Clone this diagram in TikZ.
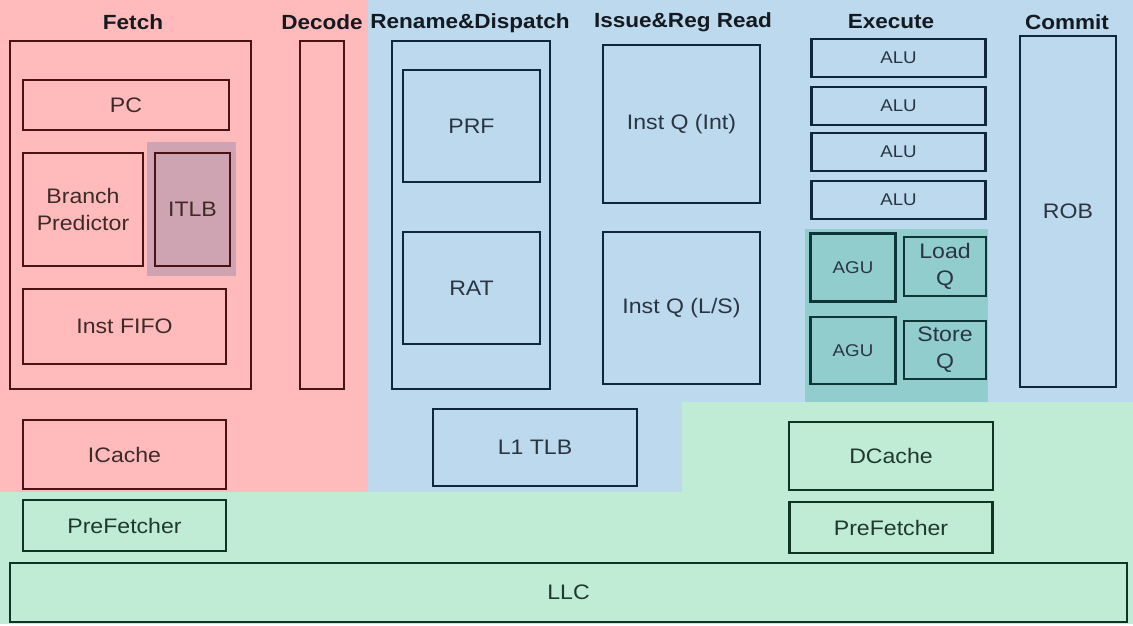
\documentclass[tikz,border=0pt]{standalone}
\usepackage{fontspec}
\setmainfont{Liberation Sans}[FakeStretch=1.1]
\usepackage{tikz}

\definecolor{fetchbg}{HTML}{FFBBBB}
\definecolor{corebg}{HTML}{BDD9EE}
\definecolor{membg}{HTML}{C0EBD5}
\definecolor{lsubg}{HTML}{91CDCC}
\definecolor{itlbbg}{HTML}{CFA4B2}
\definecolor{fetchline}{HTML}{4A1212}
\definecolor{coreline}{HTML}{10263A}
\definecolor{memline}{HTML}{0F3522}
\definecolor{lsuline}{HTML}{0E3636}
\definecolor{fetchtext}{HTML}{3F2A2A}
\definecolor{coretext}{HTML}{2A3542}
\definecolor{memtext}{HTML}{1F3A2C}
\definecolor{titletext}{HTML}{141A20}

\begin{document}
\begin{tikzpicture}[x=1pt,y=-1pt,
	unit/.style={draw,line width=2.8pt,inner sep=0pt,align=center,font=\fontsize{21}{27}\selectfont},
	fe/.style={unit,draw=fetchline,text=fetchtext},
	be/.style={unit,draw=coreline,text=coretext},
	ge/.style={unit,draw=memline,text=memtext},
	te/.style={unit,draw=lsuline,text=coretext},
	small/.style={font=\fontsize{17}{20}\selectfont},
	stage/.style={font=\bfseries\fontsize{20.5}{24}\selectfont,text=titletext},
	sz/.style 2 args={minimum width=#1pt,minimum height=#2pt}]
			\useasboundingbox (0,0) rectangle (1133,626);
			% backgrounds
			\fill[fetchbg] (0,0) rectangle (368,492);
			\fill[corebg] (368,0) rectangle (1133,402);
			\fill[corebg] (368,402) rectangle (682,492);
			\fill[membg] (682,402) rectangle (1133,492);
			\fill[membg] (0,492) rectangle (1133,624);
			\fill[lsubg] (805,229) rectangle (988,402);
			\fill[itlbbg] (147,142) rectangle (236,276);

			% stage titles
			\node[stage] (tfetch) at (133,22) {Fetch};
			\node[stage] (tdecode) at (322,22) {Decode};
			\node[stage] (trename) at (470,23) {Rename\&Dispatch};
			\node[stage] (tissue) at (683,22) {Issue\&Reg Read};
			\node[stage] (texec) at (891,22) {Execute};
			\node[stage] (tcommit) at (1067,22) {Commit};

			% front end
			\node[fe,sz={241}{348}] (fetch) at (130.5,215) {};
			\node[fe,sz={206}{50}] (pc) at (126,105) {PC};
			\node[fe,sz={120}{113}] (bp) at (83,209.5) {Branch\\Predictor};
			\node[fe,sz={75}{113},fill=itlbbg] (itlb) at (192.5,209.5) {ITLB};
			\node[fe,sz={203}{75}] (fifo) at (124.5,326.5) {Inst FIFO};
			\node[fe,sz={44}{348}] (decode) at (322,215) {};
			\node[fe,sz={203}{69}] (icache) at (124.5,454.5) {ICache};

			% back end
			\node[be,sz={158}{348}] (rename) at (471,215) {};
			\node[be,sz={137}{112}] (prf) at (471.5,126) {PRF};
			\node[be,sz={137}{112}] (rat) at (471.5,288) {RAT};
			\node[be,sz={157}{158}] (iqint) at (681.5,124) {Inst Q (Int)};
			\node[be,sz={157}{152}] (iqls) at (681.5,308) {Inst Q (L/S)};
			\foreach \y [count=\i] in {58,106,152,200}
				\node[be,small,sz={174}{38}] (alu\i) at (898.5,\y) {ALU};
			\node[be,sz={96}{351}] (rob) at (1068,211.5) {ROB};
			\node[be,sz={204}{77}] (l1tlb) at (535,447.5) {L1 TLB};

			% load/store unit
			\node[te,small,sz={85}{68}] (agu1) at (853,267.5) {AGU};
			\node[te,sz={82}{59}] (ldq) at (945,266.5) {Load\\Q};
			\node[te,small,sz={85}{67}] (agu2) at (853,350.5) {AGU};
			\node[te,sz={82}{58}] (stq) at (945,350) {Store\\Q};

			% memory
			\node[ge,sz={204}{68}] (dcache) at (891,456) {DCache};
			\node[ge,sz={203}{51}] (pfl) at (124.5,525.5) {PreFetcher};
			\node[ge,sz={203}{51}] (pfr) at (891,527.5) {PreFetcher};
			\node[ge,sz={1117}{59}] (llc) at (568.5,592.5) {LLC};
		\end{tikzpicture}
\end{document}
